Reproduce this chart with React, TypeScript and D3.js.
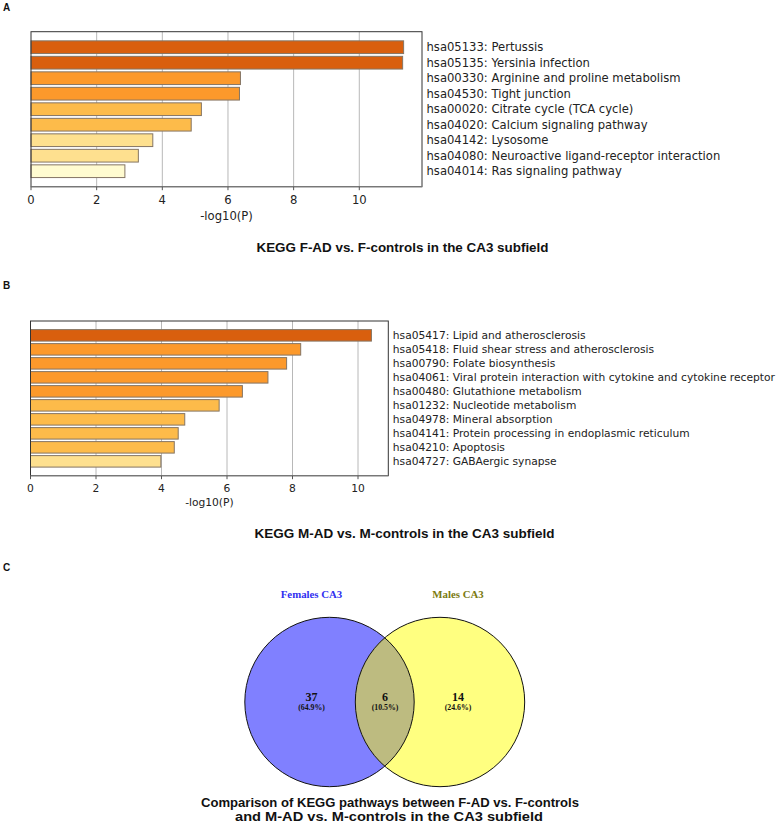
import React from "react";
import * as d3 from "d3";

const termsA = [
  "hsa05133: Pertussis",
  "hsa05135: Yersinia infection",
  "hsa00330: Arginine and proline metabolism",
  "hsa04530: Tight junction",
  "hsa00020: Citrate cycle (TCA cycle)",
  "hsa04020: Calcium signaling pathway",
  "hsa04142: Lysosome",
  "hsa04080: Neuroactive ligand-receptor interaction",
  "hsa04014: Ras signaling pathway",
];
const valuesA = [11.35, 11.32, 6.38, 6.35, 5.19, 4.88, 3.71, 3.27, 2.86];

const termsB = [
  "hsa05417: Lipid and atherosclerosis",
  "hsa05418: Fluid shear stress and atherosclerosis",
  "hsa00790: Folate biosynthesis",
  "hsa04061: Viral protein interaction with cytokine and cytokine receptor",
  "hsa00480: Glutathione metabolism",
  "hsa01232: Nucleotide metabolism",
  "hsa04978: Mineral absorption",
  "hsa04141: Protein processing in endoplasmic reticulum",
  "hsa04210: Apoptosis",
  "hsa04727: GABAergic synapse",
];
const valuesB = [10.41, 8.25, 7.82, 7.25, 6.47, 5.76, 4.71, 4.51, 4.39, 3.98];

const xTicks = [0, 2, 4, 6, 8, 10];

const vennSets = ["Females CA3", "Males CA3"];
const vennCounts = [37, 6, 14]; // females only, both, males only

const titleA = "KEGG F-AD vs. F-controls in the CA3 subfield";
const titleB = "KEGG M-AD vs. M-controls in the CA3 subfield";
const titleC1 = "Comparison of KEGG pathways between F-AD vs. F-controls";
const titleC2 = "and M-AD vs. M-controls in the CA3 subfield";

const colorScale = d3
  .scaleThreshold<number, string>()
  .domain([3, 4, 6, 10])
  .range(["#fffbd0", "#fee08f", "#fdbb4a", "#fc992b", "#d95f0e"]);

const SANS = "'DejaVu Sans', sans-serif";
const BOLD = "'Liberation Sans', Arial, sans-serif";
const SERIF = "'Liberation Serif', 'Times New Roman', serif";

type PanelProps = {
  terms: string[];
  values: number[];
  x0: number;
  x1: number;
  y0: number;
  y1: number;
  xMax: number;
  po: number;
  fs: number;
  tickDy: number;
  labelDy: number;
};

function BarPanel({ terms, values, x0, x1, y0, y1, xMax, po, fs, tickDy, labelDy }: PanelProps) {
  const x = d3.scaleLinear().domain([0, xMax]).range([x0, x1]);
  const y = d3
    .scaleBand<number>()
    .domain(d3.range(values.length))
    .range([y0, y1])
    .paddingInner(0.18)
    .paddingOuter(po);
  return (
    <g>
      {xTicks
        .filter((t) => t > 0)
        .map((t) => (
          <line key={"g" + t} x1={x(t)} x2={x(t)} y1={y0} y2={y1} stroke="#b8b8b8" strokeWidth={1} />
        ))}
      {values.map((v, i) => (
        <rect
          key={i}
          x={x(0)}
          y={y(i)!}
          width={x(v) - x(0)}
          height={y.bandwidth()}
          fill={colorScale(v)}
          stroke="#857564"
          strokeWidth={1}
        />
      ))}
      <rect x={x0} y={y0} width={x1 - x0} height={y1 - y0} fill="none" stroke="#333" strokeWidth={1} />
      <line x1={x0} x2={x1} y1={y1} y2={y1} stroke="#777" strokeWidth={1.3} />
      {xTicks.map((t) => (
        <g key={"t" + t}>
          <line x1={x(t)} x2={x(t)} y1={y1} y2={y1 + 3.5} stroke="#555" strokeWidth={1} />
          <text x={x(t)} y={y1 + tickDy} fontFamily={SANS} fontSize={fs} fill="#222" textAnchor="middle">
            {t}
          </text>
        </g>
      ))}
      <text x={(x0 + x1) / 2} y={y1 + labelDy} fontFamily={SANS} fontSize={fs} fill="#222" textAnchor="middle">
        -log10(P)
      </text>
      {terms.map((t, i) => (
        <text
          key={t}
          x={x1 + 4.5}
          y={y(i)! + y.bandwidth() / 2}
          dy="0.36em"
          fontFamily={SANS}
          fontSize={fs}
          fill="#222"
        >
          {t}
        </text>
      ))}
    </g>
  );
}

function Venn() {
  const total = d3.sum(vennCounts);
  const pct = (n: number) => `(${d3.format(".1f")((n / total) * 100)}%)`;
  const cxL = 329.5;
  const cxR = 440;
  const cy = 702;
  const r = 84.7;
  const labelX = [311.5, 385, 458];
  return (
    <g>
      <defs>
        <clipPath id="clipL">
          <circle cx={cxL} cy={cy} r={r} />
        </clipPath>
      </defs>
      <circle cx={cxL} cy={cy} r={r} fill="#8080ff" />
      <circle cx={cxR} cy={cy} r={r} fill="#ffff80" />
      <circle cx={cxR} cy={cy} r={r} fill="#bdbb80" clipPath="url(#clipL)" />
      <circle cx={cxL} cy={cy} r={r} fill="none" stroke="#111" strokeWidth={1} />
      <circle cx={cxR} cy={cy} r={r} fill="none" stroke="#111" strokeWidth={1} />
      <text x={311.5} y={598} fontFamily={SERIF} fontWeight="bold" fontSize={10.8} fill="#3030f0" textAnchor="middle">
        {vennSets[0]}
      </text>
      <text x={458} y={598} fontFamily={SERIF} fontWeight="bold" fontSize={10.8} fill="#7a7a10" textAnchor="middle">
        {vennSets[1]}
      </text>
      {vennCounts.map((n, i) => (
        <g key={i}>
          <text x={labelX[i]} y={701} fontFamily={SERIF} fontWeight="bold" fontSize={12} fill="#111" textAnchor="middle">
            {n}
          </text>
          <text x={labelX[i]} y={709.5} fontFamily={SERIF} fontWeight="bold" fontSize={7.8} fill="#111" textAnchor="middle">
            {pct(n)}
          </text>
        </g>
      ))}
    </g>
  );
}

export default function App() {
  return (
    <svg
      width={779}
      height={826}
      style={{ position: "absolute", left: 0, top: 0, background: "#fff" }}
    >
      <rect width={779} height={826} fill="#fff" />
      <text x={3} y={11} fontFamily={BOLD} fontWeight="bold" fontSize={10} fill="#111">A</text>
      <BarPanel
        terms={termsA}
        values={valuesA}
        x0={31}
        x1={422}
        y0={31.7}
        y1={186.7}
        xMax={11.91}
        po={0.59}
        fs={11.6}
        tickDy={17.6}
        labelDy={33.5}
      />
      <text x={256.5} y={252} fontFamily={BOLD} fontWeight="bold" fontSize={12.8} fill="#111" textLength={292} lengthAdjust="spacingAndGlyphs">
        {titleA}
      </text>
      <text x={3} y={289} fontFamily={BOLD} fontWeight="bold" fontSize={10} fill="#111">B</text>
      <BarPanel
        terms={termsB}
        values={valuesB}
        x0={30.5}
        x1={388.3}
        y0={321}
        y1={475.7}
        xMax={10.925}
        po={0.615}
        fs={10.7}
        tickDy={16}
        labelDy={30.5}
      />
      <text x={254.5} y={538} fontFamily={BOLD} fontWeight="bold" fontSize={12.8} fill="#111" textLength={300} lengthAdjust="spacingAndGlyphs">
        {titleB}
      </text>
      <text x={3} y={571} fontFamily={BOLD} fontWeight="bold" fontSize={10} fill="#111">C</text>
      <Venn />
      <text x={390} y={807} fontFamily={BOLD} fontWeight="bold" fontSize={12.8} fill="#111" textAnchor="middle" textLength={378} lengthAdjust="spacingAndGlyphs">
        {titleC1}
      </text>
      <text x={389} y={821} fontFamily={BOLD} fontWeight="bold" fontSize={12.8} fill="#111" textAnchor="middle" textLength={308} lengthAdjust="spacingAndGlyphs">
        {titleC2}
      </text>
    </svg>
  );
}
